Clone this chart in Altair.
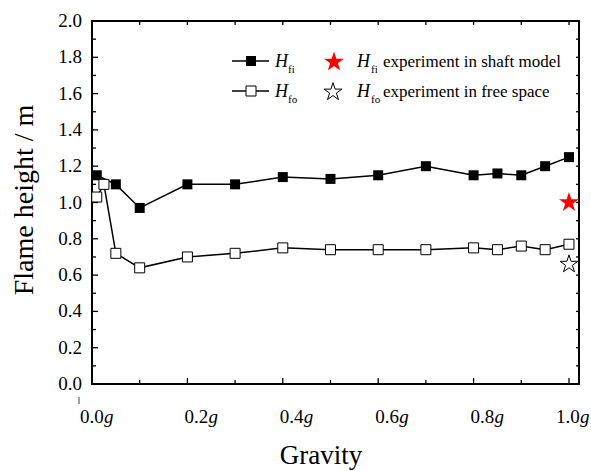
import altair as alt
import pandas as pd

# ---- data ----
g_fi = [0.01, 0.05, 0.1, 0.2, 0.3, 0.4, 0.5, 0.6, 0.7, 0.8, 0.85, 0.9, 0.95, 1.0]
h_fi = [1.15, 1.10, 0.97, 1.10, 1.10, 1.14, 1.13, 1.15, 1.20, 1.15, 1.16, 1.15, 1.20, 1.25]
g_fo = [0.01, 0.025, 0.05, 0.1, 0.2, 0.3, 0.4, 0.5, 0.6, 0.7, 0.8, 0.85, 0.9, 0.95, 1.0]
h_fo = [1.03, 1.10, 0.72, 0.64, 0.70, 0.72, 0.75, 0.74, 0.74, 0.74, 0.75, 0.74, 0.76, 0.74, 0.77]
shaft_g = [1.0]
shaft_h = [1.0]
free_g = [1.0]
free_h = [0.66]
x_major = [0.0, 0.2, 0.4, 0.6, 0.8, 1.0]
x_minor = [0.1, 0.3, 0.5, 0.7, 0.9]
x_labels = ["0.0", "0.2", "0.4", "0.6", "0.8", "1.0"]
y_major = [0.0, 0.2, 0.4, 0.6, 0.8, 1.0, 1.2, 1.4, 1.6, 1.8, 2.0]
y_labels = ["0.0", "0.2", "0.4", "0.6", "0.8", "1.0", "1.2", "1.4", "1.6", "1.8", "2.0"]
y_minor = [0.1, 0.3, 0.5, 0.7, 0.9, 1.1, 1.3, 1.5, 1.7, 1.9]
x_title = "Gravity"
y_title = "Flame height / m"

W, H = 487, 363
FONT = "Liberation Serif"
STAR = ("M0,-1L0.225,-0.309L0.951,-0.309L0.363,0.118L0.588,0.809L0,0.382"
        "L-0.588,0.809L-0.363,0.118L-0.951,-0.309L-0.225,-0.309Z")

xs = alt.Scale(domain=[0, 1.021], nice=False, zero=False)
ys = alt.Scale(domain=[0, 2.0], nice=False, zero=False)

df_fi = pd.DataFrame({"g": g_fi, "h": h_fi})
df_fo = pd.DataFrame({"g": g_fo, "h": h_fo})
df_shaft = pd.DataFrame({"g": shaft_g, "h": shaft_h})
df_free = pd.DataFrame({"g": free_g, "h": free_h})
df_xmaj = pd.DataFrame({"v": x_major, "lab": x_labels})
df_xmin = pd.DataFrame({"v": x_minor})
df_xall = pd.DataFrame({"v": sorted(x_major + x_minor)})
df_ymaj = pd.DataFrame({"v": y_major, "lab": y_labels})
df_ymin = pd.DataFrame({"v": y_minor})
df_yall = pd.DataFrame({"v": sorted(y_major + y_minor)})

Xn = alt.X("g:Q", scale=xs, axis=None)
Yn = alt.Y("h:Q", scale=ys, axis=None)

# ---- ticks (inward) ----
def xrule(df, y1, y2):
    return alt.Chart(df).mark_rule(color="black", strokeWidth=1.3).encode(
        x=alt.X("v:Q", scale=xs, axis=None), y=alt.value(y1), y2=alt.value(y2))

def yrule(df, x1, x2):
    return alt.Chart(df).mark_rule(color="black", strokeWidth=1.3).encode(
        y=alt.Y("v:Q", scale=ys, axis=None), x=alt.value(x1), x2=alt.value(x2))

ticks = [
    xrule(df_xmaj, H, H - 6), xrule(df_xmin, H, H - 4), xrule(df_xall, 0, 4),
    yrule(df_ymaj, 0, 6), yrule(df_ymin, 0, 4), yrule(df_yall, W, W - 3),
]
# small stray mark below the origin, as in the reference
stray = alt.Chart(df_shaft).mark_rule(color="#444", strokeWidth=1).encode(
    x=alt.value(-13), y=alt.value(H + 13), y2=alt.value(H + 20))

# ---- tick labels ----
LX = "datum.v + (datum.v == 0 ? -12 : (datum.v == 1 ? -13 : -3)) / 477"
xlab_num = alt.Chart(df_xmaj).transform_calculate(lx=LX).mark_text(
    font=FONT, fontSize=19, align="left", baseline="alphabetic", color="black").encode(
    x=alt.X("lx:Q", scale=xs, axis=None), y=alt.value(H + 39), text="lab:N")
xlab_g = alt.Chart(df_xmaj).transform_calculate(lx=LX).mark_text(
    font=FONT, fontSize=19, fontStyle="italic", align="left", baseline="alphabetic",
    color="black", dx=24).encode(
    x=alt.X("lx:Q", scale=xs, axis=None), y=alt.value(H + 39), text=alt.value("g"))
ylab = alt.Chart(df_ymaj).mark_text(
    font=FONT, fontSize=19, align="right", baseline="middle", color="black").encode(
    y=alt.Y("v:Q", scale=ys, axis=None), x=alt.value(-10), text="lab:N")

# ---- axis titles ----
xtitle = alt.Chart(df_shaft).mark_text(
    font=FONT, fontSize=27, align="center", baseline="alphabetic", color="black").encode(
    x=alt.value(229), y=alt.value(H + 80), text=alt.value(x_title))
ytitle = alt.Chart(df_shaft).mark_text(
    font=FONT, fontSize=28, align="center", baseline="alphabetic", color="black",
    angle=270).encode(
    x=alt.value(-59), y=alt.value(179), text=alt.value(y_title))

# ---- data series ----
fi_line = alt.Chart(df_fi).mark_line(color="black", strokeWidth=1.5).encode(x=Xn, y=Yn)
fi_pts = alt.Chart(df_fi).mark_point(shape="square", size=100, filled=True, color="black",
                                     opacity=1).encode(x=Xn, y=Yn)
fo_line = alt.Chart(df_fo).mark_line(color="black", strokeWidth=1.5).encode(x=Xn, y=Yn)
fo_pts = alt.Chart(df_fo).mark_point(shape="square", size=100, filled=True, fill="white",
                                     stroke="black", strokeWidth=1, opacity=1).encode(x=Xn, y=Yn)
shaft_pt = alt.Chart(df_shaft).mark_point(shape=STAR, size=440, filled=True, color="red",
                                          opacity=1).encode(x=Xn, y=Yn)
free_pt = alt.Chart(df_free).mark_point(shape=STAR, size=350, filled=True, fill="white",
                                        stroke="black", strokeWidth=1, opacity=1).encode(x=Xn, y=Yn)

# ---- legend (drawn by hand) ----
def txt(s, x, y, size=17, italic=False):
    kw = dict(font=FONT, fontSize=size, align="left", baseline="alphabetic", color="black")
    if italic:
        kw["fontStyle"] = "italic"
    return alt.Chart(df_shaft).mark_text(**kw).encode(
        x=alt.value(x), y=alt.value(y), text=alt.value(s))

def sym(x, y, **kw):
    return alt.Chart(df_shaft).mark_point(opacity=1, **kw).encode(
        x=alt.value(x), y=alt.value(y))

def lrule(x1, x2, y):
    return alt.Chart(df_shaft).mark_rule(color="black", strokeWidth=1.5).encode(
        x=alt.value(x1), x2=alt.value(x2), y=alt.value(y))

r1, r2 = 40, 70
legend = [
    lrule(140, 177, r1), sym(159, r1, shape="square", size=100, filled=True, color="black"),
    txt("H", 183, r1 + 6, 18, True), txt("fi", 196, r1 + 12, 11),
    sym(242, r1 + 1, shape=STAR, size=440, filled=True, color="red"),
    txt("H", 265, r1 + 6, 18, True), txt("fi", 279, r1 + 12, 11),
    txt("experiment in shaft model", 291, r1 + 6, 17),
    lrule(140, 177, r2), sym(159, r2, shape="square", size=100, filled=True, fill="white",
                             stroke="black", strokeWidth=1),
    txt("H", 183, r2 + 6, 18, True), txt("fo", 196, r2 + 12, 11),
    sym(241, r2 + 1, shape=STAR, size=350, filled=True, fill="white", stroke="black",
        strokeWidth=1),
    txt("H", 265, r2 + 6, 18, True), txt("fo", 279, r2 + 12, 11),
    txt("experiment in free space", 291, r2 + 6, 17),
]

chart = alt.layer(
    fi_line, fi_pts, fo_line, fo_pts, shaft_pt, free_pt,
    *ticks, stray, xlab_num, xlab_g, ylab, xtitle, ytitle, *legend
).properties(
    width=W, height=H,
    autosize=alt.AutoSizeParams(type="none"),
    padding={"left": 92, "top": 21, "right": 12, "bottom": 87},
    background="white",
).configure_view(stroke="black", strokeWidth=2)

chart.save("out.html", embed_options={"renderer": "svg", "actions": False})
